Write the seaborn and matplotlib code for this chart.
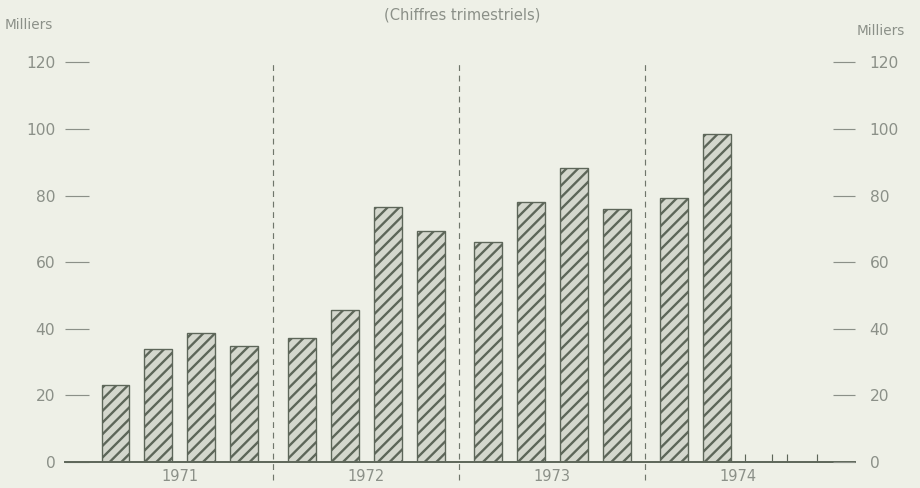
import matplotlib
matplotlib.use('Agg')
import matplotlib.pyplot as plt
import matplotlib.transforms as mtransforms
import seaborn as sns
import pandas as pd
import numpy as np

# quarterly figures, thousands
years = ['1971', '1972', '1973', '1974']
values = [23.2, 34.0, 38.8, 34.8,
          37.3, 45.6, 76.5, 69.4,
          66.1, 78.0, 88.2, 76.0,
          79.2, 98.6]
yticks = [0, 20, 40, 60, 80, 100, 120]
# little marks on the axis after the last bar
extra_marks = [14.64, 15.27, 15.62, 16.31]

bg = '#eef0e7'
fill = '#d4d7cd'
ink = '#5d6659'
txt = '#8b9088'

sns.set_style('white')
plt.rcParams['font.family'] = ['DejaVu Sans']
plt.rcParams['hatch.linewidth'] = 1.2

gap = 0.33
year_step = 4 + gap
n = len(values)
year_idx = np.arange(n) // 4
q_idx = np.arange(n) % 4
pos = year_idx * year_step + q_idx
df = pd.DataFrame({'pos': pos, 'val': values,
                   'year': [years[i] for i in year_idx]})

fig = plt.figure(figsize=(920 / 140, 488 / 140), dpi=140, facecolor=bg)
ax = fig.add_axes([65 / 920, 1 - 462 / 488, 790 / 920, 406.3 / 488])
ax.set_facecolor(bg)

sns.barplot(data=df, x='pos', y='val', native_scale=True, width=0.65,
            color=fill, saturation=1, errorbar=None, ax=ax)
for p in ax.patches:
    p.set_hatch('////')
    p.set_edgecolor(ink)
    p.set_linewidth(0.7)

ax.set_xlim(-1.174, 17.2)
ax.set_ylim(0, 122)
ax.set_xlabel('')
ax.set_ylabel('')

for s in ['top', 'left', 'right']:
    ax.spines[s].set_visible(False)
ax.spines['bottom'].set_color(ink)
ax.spines['bottom'].set_linewidth(1.0)

# year separators
for i in range(1, len(years)):
    xb = i * year_step - gap / 2 - 0.5
    ax.axvline(xb, ymin=-0.044, ymax=0.99, clip_on=False, color='#6f766b',
               lw=0.6, ls=(0, (5, 4)))
# year labels
trans = mtransforms.blended_transform_factory(ax.transData, ax.transAxes)
for i, y in enumerate(years):
    ax.text(i * year_step + 1.5, -0.036, y, transform=trans, ha='center',
            va='center', fontsize=7.5, color=txt)

ax.set_xticks([])
ax.set_xticks(extra_marks, minor=True)
ax.tick_params(axis='x', which='minor', direction='in', length=4,
               width=0.6, color=ink, bottom=True)

ax.set_yticks(yticks)
ax.tick_params(axis='y', direction='in', length=12.5, width=0.6,
               color=txt, pad=5, labelsize=8, labelcolor=txt, left=True)

ax2 = ax.twinx()
ax2.set_ylim(0, 122)
ax2.set_yticks(yticks)
for s in ['top', 'left', 'right', 'bottom']:
    ax2.spines[s].set_visible(False)
ax2.tick_params(axis='y', direction='in', length=11.5, width=0.6,
                color=txt, pad=7.5, labelsize=8, labelcolor=txt, right=True)

fig.text(5 / 920, 1 - 25 / 488, 'Milliers', ha='left', va='center',
         fontsize=7, color=txt)
fig.text(905 / 920, 1 - 31 / 488, 'Milliers', ha='right', va='center',
         fontsize=7, color=txt)
fig.text(462 / 920, 1 - 15 / 488, '(Chiffres trimestriels)', ha='center',
         va='center', fontsize=7.5, color=txt)

fig.savefig('out.png', dpi=140, facecolor=bg)
